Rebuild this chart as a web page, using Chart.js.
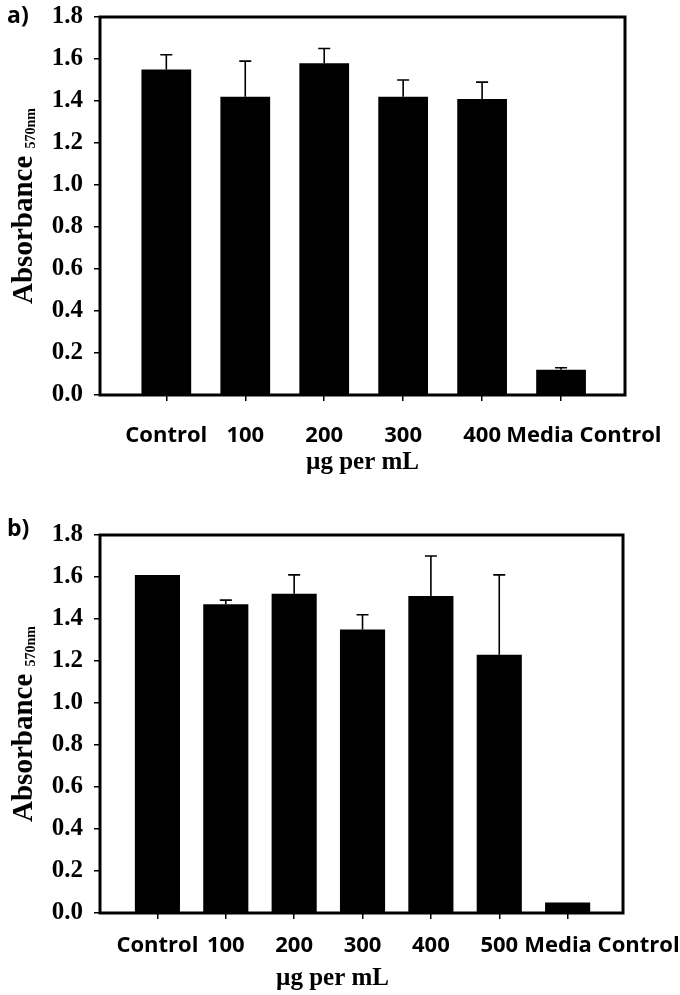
<!DOCTYPE html>
<html>
<head>
<meta charset="utf-8">
<script src="https://cdn.jsdelivr.net/npm/chart.js@4.4.1/dist/chart.umd.min.js"></script>
<style>
  body { margin: 0; background: #fff; }
  .panel { position: absolute; left: 0; width: 680px; }
  #panelA { top: 0; height: 490px; }
  #panelB { top: 490px; height: 505px; }
</style>
</head>
<body>
<div class="panel" id="panelA"><canvas id="chartA"></canvas></div>
<div class="panel" id="panelB"><canvas id="chartB"></canvas></div>
<script>
// panel a)
const labelsA = ["Control", "100", "200", "300", "400", "Media Control"];
const meansA = [1.55, 1.42, 1.58, 1.42, 1.41, 0.12];
const errorsA = [0.07, 0.17, 0.07, 0.08, 0.08, 0.01];

// panel b)
const labelsB = ["Control", "100", "200", "300", "400", "500", "Media Control"];
const meansB = [1.61, 1.47, 1.52, 1.35, 1.51, 1.23, 0.05];
const errorsB = [0, 0.02, 0.09, 0.07, 0.19, 0.38, 0];

// y axis
const yMin = 0;
const yMax = 1.8;
const yStep = 0.2;

const xTitle = "µg per mL";
const yTitle = "Absorbance";
const ySub = "570nm";

const serif = "'Liberation Serif', 'Times New Roman', serif";
const sans = "'Open Sans', Lato, sans-serif";

// error bars (upper side only)
const errorBars = {
  id: "errorBars",
  afterDatasetsDraw(chart, args, opts) {
    const ctx = chart.ctx;
    const y = chart.scales.y;
    const pts = chart.data.datasets[0].data;
    ctx.save();
    ctx.strokeStyle = "#000";
    ctx.lineWidth = 1.6;
    chart.getDatasetMeta(0).data.forEach((bar, i) => {
      const e = opts.values[i];
      if (!e) return;
      const y0 = y.getPixelForValue(pts[i].y);
      const y1 = y.getPixelForValue(pts[i].y + e);
      ctx.beginPath();
      ctx.moveTo(bar.x, y0);
      ctx.lineTo(bar.x, y1);
      ctx.moveTo(bar.x - 6, y1);
      ctx.lineTo(bar.x + 6, y1);
      ctx.stroke();
    });
    ctx.restore();
  }
};

// box around the plot, panel tag, axis titles
const frame = {
  id: "frame",
  afterDatasetsDraw(chart) {
    const { ctx, chartArea: a } = chart;
    ctx.save();
    ctx.strokeStyle = "#000";
    ctx.lineWidth = 3;
    ctx.strokeRect(a.left, a.top, a.right - a.left, a.bottom - a.top);
    ctx.restore();
  },
  afterDraw(chart, args, opts) {
    const { ctx, chartArea: a } = chart;
    ctx.save();
    ctx.fillStyle = "#000";
    ctx.textBaseline = "alphabetic";
    ctx.font = "bold 23px " + sans;
    ctx.fillText(opts.tag, 7, opts.tagY);

    // x title
    ctx.font = "bold 25px " + serif;
    ctx.textAlign = "center";
    ctx.fillText(xTitle, (a.left + a.right) / 2 + opts.titleDx, opts.titleY);

    // y title with subscript
    ctx.textAlign = "left";
    ctx.translate(32, (a.top + a.bottom) / 2);
    ctx.rotate(-Math.PI / 2);
    ctx.font = "bold 29px " + serif;
    const w1 = ctx.measureText(yTitle + " ").width;
    ctx.font = "bold 14px " + serif;
    const w2 = ctx.measureText(ySub).width;
    const x0 = -(w1 + w2) / 2;
    ctx.font = "bold 29px " + serif;
    ctx.fillText(yTitle, x0, 0);
    ctx.font = "bold 14px " + serif;
    ctx.fillText(ySub, x0 + w1, 3);
    ctx.restore();
  }
};

function makeChart(id, labels, means, errors, cfg) {
  const last = labels.length - 1;
  return new Chart(document.getElementById(id), {
    type: "bar",
    data: {
      datasets: [{
        data: means.map((v, i) => ({ x: i, y: v })),
        backgroundColor: "#000",
        borderWidth: 0,
        barPercentage: cfg.barPct,
        categoryPercentage: 1
      }]
    },
    options: {
      responsive: true,
      maintainAspectRatio: false,
      animation: false,
      layout: { padding: { left: 0, right: cfg.right, top: cfg.top, bottom: 0 } },
      plugins: {
        legend: { display: false },
        tooltip: { enabled: false },
        errorBars: { values: errors },
        frame: cfg
      },
      scales: {
        x: {
          type: "linear",
          offset: false,
          min: -0.84,
          max: last + 0.81,
          afterBuildTicks: s => { s.ticks = labels.map((l, i) => ({ value: i })); },
          afterFit: s => { s.height = cfg.xHeight; s.paddingLeft = 0; s.paddingRight = 0; },
          border: { display: false },
          grid: { offset: false, drawOnChartArea: false, drawTicks: true, tickLength: 6, color: "#000", lineWidth: 1.5 },
          ticks: {
            autoSkip: false,
            maxRotation: 0,
            padding: cfg.labelPad,
            color: "#000",
            font: { family: sans, size: 22, weight: "bold" },
            // the long last label sits a little to the right of its tick
            callback: v => {
              const i = Math.round(v);
              return i === last ? " ".repeat(cfg.lastPad) + labels[i] : labels[i];
            }
          }
        },
        y: {
          min: yMin,
          max: yMax,
          afterFit: s => { s.width = 100; s.paddingTop = 0; s.paddingBottom = 0; },
          border: { display: false },
          grid: { drawOnChartArea: false, drawTicks: true, tickLength: 6, color: "#000", lineWidth: 1.5 },
          ticks: {
            stepSize: yStep,
            padding: 11,
            color: "#000",
            font: { family: serif, size: 25, weight: "bold" },
            callback: v => v.toFixed(1)
          }
        }
      }
    },
    plugins: [errorBars, frame]
  });
}

makeChart("chartA", labelsA, meansA, errorsA, {
  tag: "a)", tagY: 23, right: 55, top: 17, xHeight: 95, labelPad: 22,
  barPct: 0.63, lastPad: 8, titleY: 469, titleDx: 0
});
makeChart("chartB", labelsB, meansB, errorsB, {
  tag: "b)", tagY: 46, right: 57, top: 45, xHeight: 82, labelPad: 14,
  barPct: 0.66, lastPad: 12, titleY: 495, titleDx: -29
});
</script>
</body>
</html>
